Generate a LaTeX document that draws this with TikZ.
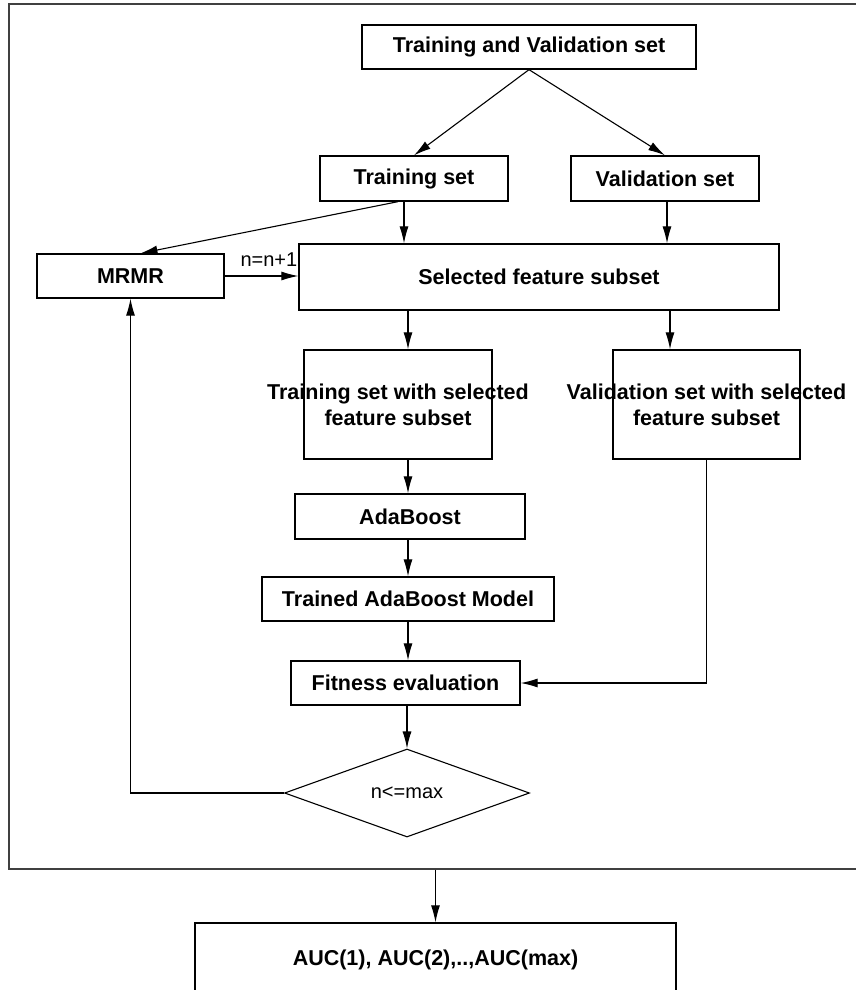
\documentclass[tikz,border=0pt]{standalone}
\usepackage{fontspec}
\setmainfont{Liberation Sans}
\usetikzlibrary{arrows.meta,shapes.geometric}

\tikzset{
  box/.style={draw, line width=1.3pt, inner sep=0pt, font=\bfseries\fontsize{21.5}{26}\selectfont},
  txt/.style={inner sep=0pt, align=center, font=\bfseries\fontsize{21.5}{26}\selectfont},
  plain/.style={font=\fontsize{20}{24}\selectfont},
  arr/.style={-{Latex[length=17pt,width=9pt]}, line width=1.1pt},
}

\begin{document}
\begin{tikzpicture}[x=1pt,y=-1pt]
\useasboundingbox (0,0) rectangle (856,990);
\node[draw, line width=1.6pt, black!75, anchor=north west, minimum width=870pt, minimum height=865pt] (frame) at (8,3) {};
\node[box, minimum width=334pt, minimum height=44pt] (tvset) at (529,47) {Training and Validation set};
\node[box, minimum width=188pt, minimum height=45pt] (trset) at (414,178.5) {Training set};
\node[box, minimum width=188pt, minimum height=45pt] (vaset) at (665,178.5) {Validation set};
\node[box, minimum width=187pt, minimum height=44pt] (mrmr) at (130.5,276) {MRMR};
\node[box, minimum width=480pt, minimum height=66pt] (selset) at (539,277) {Selected feature subset};
\node[box, minimum width=188pt, minimum height=109pt] (trsel) at (398,404.5) {};
\node[txt] (trseltext) at (trsel) {Training set with selected\\feature subset};
\node[box, minimum width=187pt, minimum height=109pt] (vasel) at (706.5,404.5) {};
\node[txt] (vaseltext) at (vasel) {Validation set with selected\\feature subset};
\node[box, minimum width=230pt, minimum height=45pt] (ada) at (410,516.5) {AdaBoost};
\node[box, minimum width=292pt, minimum height=44pt] (trained) at (408,599) {Trained AdaBoost Model};
\node[box, minimum width=229pt, minimum height=44pt] (fitness) at (405.5,683) {Fitness evaluation};
\node[draw, diamond, line width=1.1pt, inner sep=0pt, minimum width=245pt, minimum height=88pt, plain] (cond) at (407,793) {n<=max};
\node[box, minimum width=481pt, minimum height=74pt] (auc) at (435.5,960) {AUC(1), AUC(2),..,AUC(max)};

\draw[arr] (tvset.south) -- (trset.north);
\draw[arr] (tvset.south) -- (vaset.north);
\draw[arr] ([xshift=-16pt]trset.south) -- ([xshift=10pt]mrmr.north);
\draw[arr] ([xshift=-10pt]trset.south) -- ([xshift=-10pt]trset.south |- selset.north);
\draw[arr] ([xshift=2pt]vaset.south) -- ([xshift=2pt]vaset.south |- selset.north);
\draw[arr] (mrmr.east) -- (selset.west |- mrmr.east) node[plain, pos=0.6, above=6pt] {n=n+1};
\draw[arr] (selset.south -| trained) -- (trsel.north -| trained);
\draw[arr] ([xshift=5pt]selset.south -| vaset) -- ([xshift=5pt]vasel.north -| vaset);
\draw[arr] (trsel.south -| trained) -- (ada.north -| trained);
\draw[arr] (ada.south -| trained) -- (trained.north);
\draw[arr] (trained.south) -- (fitness.north -| trained);
\draw[arr] (vasel.south) |- (fitness.east);
\draw[arr] (fitness.south -| cond) -- (cond.north);
\draw[arr] (cond.west) -| (mrmr.south);
\draw[arr] (frame.south -| auc) -- (auc.north);
\end{tikzpicture}
\end{document}
